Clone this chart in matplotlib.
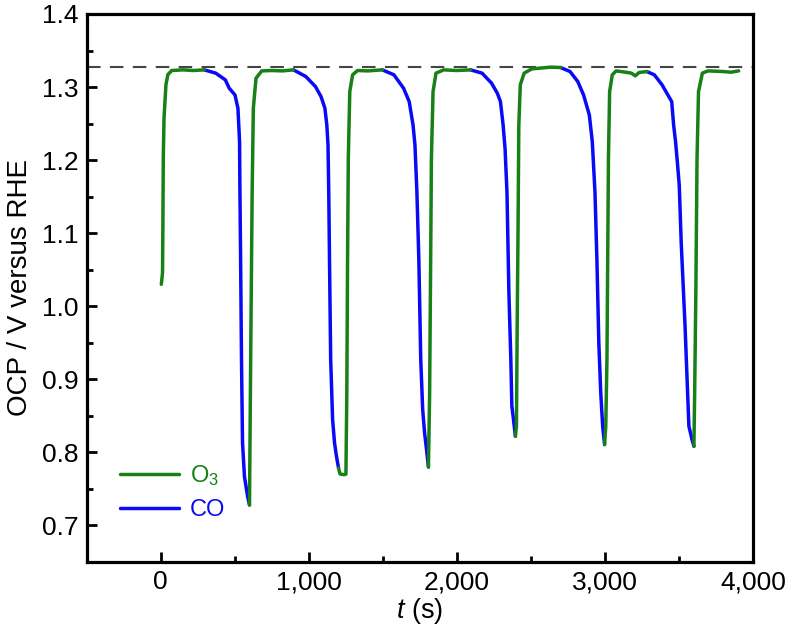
import numpy as np
import matplotlib
matplotlib.use("Agg")
import matplotlib.pyplot as plt
from matplotlib.ticker import MultipleLocator, FuncFormatter

plt.rcParams['font.family'] = ['Liberation Sans', 'DejaVu Sans']
plt.rcParams['mathtext.fontset'] = 'custom'
plt.rcParams['mathtext.rm'] = 'Liberation Sans'
plt.rcParams['mathtext.it'] = 'Liberation Sans:italic'

# Full OCP trace (time in s, potential in V vs RHE)
time_s = [4, 12, 14.5, 17, 22, 35, 48, 74, 150, 220, 294,
          371, 436, 462, 501, 521, 532, 534, 539, 545, 552, 565, 586, 599,
          607, 617, 625, 643, 682, 750, 820, 896,
          979, 1044, 1082, 1108, 1121, 1129, 1134, 1139, 1147, 1160, 1173, 1186, 1200,
          1210, 1235, 1250, 1256, 1261, 1266, 1276, 1295, 1328, 1400, 1496,
          1574, 1639, 1677, 1703, 1716, 1729, 1742, 1755, 1768, 1781, 1794, 1807,
          1815, 1822, 1827, 1838, 1858, 1910, 2000, 2091,
          2169, 2233, 2272, 2293, 2311, 2324, 2337, 2350, 2363, 2370, 2381, 2394,
          2401, 2406, 2412, 2417, 2427, 2453, 2505, 2634, 2699,
          2763, 2815, 2854, 2893, 2913, 2931, 2944, 2957, 2970, 2983, 2996,
          3004, 3012, 3017, 3022, 3030, 3048, 3074, 3138, 3177, 3203, 3229, 3281,
          3332, 3384, 3423, 3449, 3462, 3475, 3487, 3500, 3513, 3539, 3552, 3565, 3586, 3599,
          3604, 3612, 3620, 3630, 3656, 3694, 3798, 3849, 3901]
ocp_v = [1.030, 1.046, 1.111, 1.202, 1.257, 1.303, 1.317, 1.3226, 1.3235, 1.3226, 1.3235,
         1.319, 1.3098, 1.2984, 1.2892, 1.271, 1.2252, 1.168, 1.065, 0.9275, 0.813, 0.767, 0.740, 0.728,
         0.9275, 1.1565, 1.271, 1.3121, 1.3221, 1.3226, 1.3221, 1.3235,
         1.3144, 1.3007, 1.2869, 1.271, 1.2481, 1.2206, 1.1565, 1.065, 0.9275, 0.8451, 0.813, 0.7947, 0.7787,
         0.7705, 0.7695, 0.7701, 0.8817, 1.065, 1.2023, 1.2938, 1.3167, 1.3226, 1.3221, 1.3235,
         1.3167, 1.2984, 1.2801, 1.2481, 1.2206, 1.1565, 1.065, 0.9275, 0.8588, 0.8267, 0.8038, 0.780,
         0.8817, 1.065, 1.2023, 1.2938, 1.319, 1.3235, 1.3226, 1.3235,
         1.319, 1.3053, 1.2915, 1.2801, 1.2481, 1.216, 1.1565, 1.0191, 0.9275, 0.8634, 0.8451, 0.8221,
         0.8359, 0.9733, 1.1106, 1.2481, 1.303, 1.319, 1.3249, 1.3272, 1.3267,
         1.3212, 1.3075, 1.2892, 1.2618, 1.2252, 1.1565, 1.065, 0.9504, 0.8817, 0.8359, 0.8107,
         0.8359, 0.9275, 1.065, 1.2023, 1.2938, 1.3167, 1.3221, 1.3203, 1.319, 1.3153, 1.3199, 1.3212,
         1.3167, 1.303, 1.2892, 1.2801, 1.2481, 1.2252, 1.1977, 1.1656, 1.0878, 0.9733, 0.9046, 0.8359, 0.8176, 0.8084,
         0.8817, 1.0191, 1.2023, 1.2938, 1.319, 1.3221, 1.3212, 1.3203, 1.3221]

# Gas switching times
o3_start = [0, 599, 1200, 1807, 2394, 2996, 3599]
co_start = [294, 896, 1496, 2091, 2699, 3281]
ref_level = 1.327

green = '#178017'
blue = '#0a0af5'

fig = plt.figure(figsize=(7.88, 6.35), dpi=100)
ax = fig.add_axes([0.110, 0.115, 0.846, 0.863])

t = np.array(time_s)
v = np.array(ocp_v)
switches = sorted([(s, 'O3') for s in o3_start] + [(s, 'CO') for s in co_start])
handles = {}
for i, (start, gas) in enumerate(switches):
    end = switches[i + 1][0] if i + 1 < len(switches) else np.inf
    m = (t >= start) & (t <= end)
    col = green if gas == 'O3' else blue
    ln, = ax.plot(t[m], v[m], color=col, lw=2.5, solid_capstyle='round',
                  solid_joinstyle='round', zorder=3 if gas == 'O3' else 2)
    handles.setdefault(gas, ln)

ax.axhline(ref_level, color='#454545', lw=1.5, dashes=(6.5, 4.5), zorder=1)

ax.set_xlim(-500, 4000)
ax.set_ylim(0.65, 1.40)
ax.xaxis.set_major_locator(MultipleLocator(1000))
ax.xaxis.set_minor_locator(MultipleLocator(500))
ax.yaxis.set_major_locator(MultipleLocator(0.1))
ax.yaxis.set_minor_locator(MultipleLocator(0.05))
ax.xaxis.set_major_formatter(FuncFormatter(lambda x, p: f"{int(x):,}"))
ax.yaxis.set_major_formatter(FuncFormatter(lambda y, p: f"{y:.1f}"))

for s in ax.spines.values():
    s.set_linewidth(2.3)
ax.tick_params(which='both', direction='in', top=False, right=False, width=2.0,
               labelsize=19)
ax.tick_params(which='major', length=7.5, pad=6)
ax.tick_params(which='minor', length=4)

ax.set_xlabel('$t$ (s)', fontsize=19.5, labelpad=1)
ax.set_ylabel('OCP / V versus RHE', fontsize=20, labelpad=6)

leg = ax.legend([handles['O3'], handles['CO']], ['O$_3$', 'CO'], loc='lower left',
                bbox_to_anchor=(0.05, 0.075), frameon=False, fontsize=17,
                handlelength=2.5, handletextpad=0.45, labelspacing=0.45,
                borderaxespad=0, borderpad=0, labelcolor='linecolor')

fig.savefig('out.png', dpi=100)
